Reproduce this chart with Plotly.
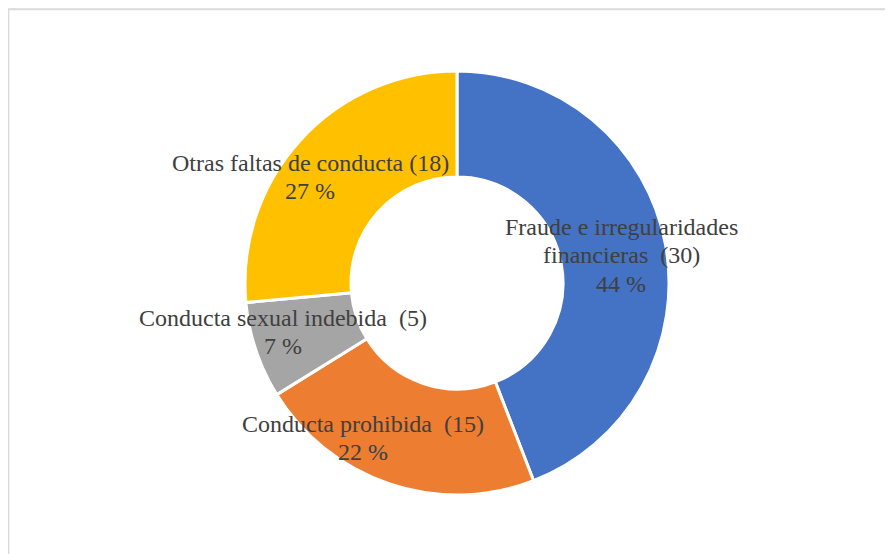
import plotly.graph_objects as go

W, H = 893, 554
OFF = 8  # page body margin offset

categories = ["Fraude e irregularidades financieras", "Conducta prohibida",
              "Conducta sexual indebida", "Otras faltas de conducta"]
counts = [30, 15, 5, 18]
percent_labels = ["44 %", "22 %", "7 %", "27 %"]
colors = ["#4472C4", "#ED7D31", "#A5A5A5", "#FFC000"]

label_lines = [
    ["Fraude e irregularidades", "financieras\u00a0 (30)", "44 %"],
    ["Conducta prohibida\u00a0 (15)", "22 %"],
    ["Conducta sexual indebida\u00a0 (5)", "7 %"],
    ["Otras faltas de conducta (18)", "27 %"],
]
# label centres in page pixels
label_pos = [(621, 255), (363, 438), (283, 332), (310, 177)]
LINE_H = 28.5

cx, cy, R = 457 - OFF, 283 - OFF, 212

fig = go.Figure(go.Pie(
    labels=categories,
    values=counts,
    sort=False,
    direction="clockwise",
    rotation=0,
    hole=0.5,
    marker=dict(colors=colors, line=dict(color="white", width=3)),
    textinfo="none",
    hoverinfo="label+value+percent",
    domain=dict(x=[(cx - R) / W, (cx + R) / W], y=[1 - (cy + R) / H, 1 - (cy - R) / H]),
    showlegend=False,
))

for lines, (px, py) in zip(label_lines, label_pos):
    n = len(lines)
    for i, t in enumerate(lines):
        ly = py + (i - (n - 1) / 2) * LINE_H
        fig.add_annotation(
            x=(px - OFF) / W, y=1 - (ly - OFF) / H, xref="paper", yref="paper",
            text=t, showarrow=False, align="center",
            xanchor="center", yanchor="middle",
            font=dict(family="Liberation Serif", size=24, color="#404040"),
        )

fig.add_shape(type="rect", xref="paper", yref="paper",
              x0=0.3 / W, x1=1.2, y0=-0.2, y1=1 - 1.2 / H,
              line=dict(color="#D9D9D9", width=2), layer="below")

fig.update_layout(
    width=W, height=H,
    margin=dict(l=0, r=0, t=0, b=0),
    paper_bgcolor="white", plot_bgcolor="white",
)

fig.write_html("out.html")
